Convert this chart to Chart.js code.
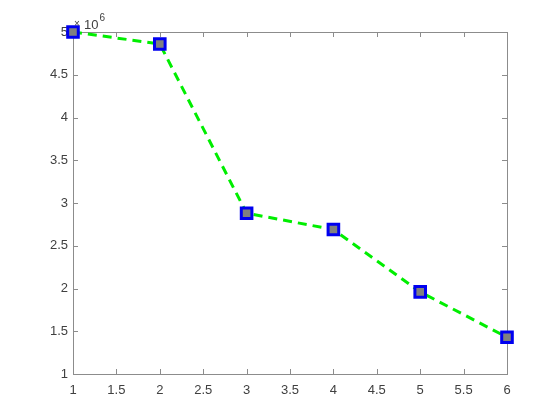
<!DOCTYPE html>
<html>
<head>
<meta charset="utf-8">
<script src="https://cdn.jsdelivr.net/npm/chart.js@4"></script>
<style>
  html, body { margin: 0; padding: 0; background: #fff; }
  #wrap { width: 560px; height: 420px; }
</style>
</head>
<body>
<div id="wrap"><canvas id="plot" width="560" height="420"></canvas></div>
<script>
// values
const xValues = [1, 2, 3, 4, 5, 6];
const yValues = [5.00e6, 4.86e6, 2.88e6, 2.69e6, 1.96e6, 1.43e6];
const xTicks = [1, 1.5, 2, 2.5, 3, 3.5, 4, 4.5, 5, 5.5, 6];
const yTicks = [1e6, 1.5e6, 2e6, 2.5e6, 3e6, 3.5e6, 4e6, 4.5e6, 5e6];
const yExponent = 6;

const axisColor = '#8c8c8c';
const textColor = '#404040';
const fontFamily = 'Arial, "Liberation Sans", Helvetica, sans-serif';

// matlab-like box with inward ticks + exponent label
const boxPlugin = {
  id: 'matlabBox',
  beforeDatasetsDraw(chart) {
    const { ctx, chartArea: a, scales } = chart;
    ctx.save();
    ctx.strokeStyle = axisColor;
    ctx.lineWidth = 1;
    ctx.strokeRect(a.left + 0.5, a.top + 0.5, a.right - a.left, a.bottom - a.top);
    const len = 5;
    ctx.beginPath();
    xTicks.forEach(v => {
      const px = Math.round(scales.x.getPixelForValue(v)) + 0.5;
      ctx.moveTo(px, a.bottom); ctx.lineTo(px, a.bottom - len);
      ctx.moveTo(px, a.top); ctx.lineTo(px, a.top + len);
    });
    yTicks.forEach(v => {
      const py = Math.round(scales.y.getPixelForValue(v)) + 0.5;
      ctx.moveTo(a.left, py); ctx.lineTo(a.left + len, py);
      ctx.moveTo(a.right, py); ctx.lineTo(a.right - len, py);
    });
    ctx.stroke();
    ctx.restore();
  },
  afterDraw(chart) {
    const { ctx, chartArea: a } = chart;
    ctx.save();
    ctx.fillStyle = textColor;
    ctx.textBaseline = 'alphabetic';
    ctx.textAlign = 'left';
    ctx.font = '10px ' + fontFamily;
    ctx.fillText('\u00d7', a.left + 1, a.top - 5);
    ctx.font = '13px ' + fontFamily;
    ctx.fillText('10', a.left + 11, a.top - 3);
    const w = ctx.measureText('10').width;
    ctx.font = '10px ' + fontFamily;
    ctx.fillText(String(yExponent), a.left + 11 + w + 1, a.top - 11);
    ctx.restore();
  }
};

new Chart(document.getElementById('plot'), {
  type: 'scatter',
  data: {
    datasets: [{
      data: xValues.map((x, i) => ({ x: x, y: yValues[i] })),
      showLine: true,
      clip: false,
      borderColor: '#00ee00',
      borderWidth: 3,
      borderDash: [9, 6],
      pointStyle: 'rect',
      pointRadius: 7.5,
      pointHoverRadius: 7.5,
      pointBorderWidth: 3,
      pointBorderColor: '#0000f0',
      pointBackgroundColor: '#808080'
    }]
  },
  options: {
    responsive: false,
    animation: false,
    events: [],
    layout: { padding: { left: 0, top: 32, right: 53, bottom: 0 } },
    plugins: { legend: { display: false }, tooltip: { enabled: false } },
    scales: {
      x: {
        type: 'linear',
        min: 1, max: 6,
        afterFit(s) { s.height = 46; },
        afterBuildTicks(s) { s.ticks = xTicks.map(v => ({ value: v })); },
        grid: { display: false, drawTicks: false },
        border: { display: false },
        ticks: {
          color: textColor,
          padding: 9,
          maxRotation: 0,
          autoSkip: false,
          font: { family: fontFamily, size: 13 },
          callback: v => String(v)
        }
      },
      y: {
        type: 'linear',
        min: 1e6, max: 5e6,
        afterFit(s) { s.width = 73; },
        afterBuildTicks(s) { s.ticks = yTicks.map(v => ({ value: v })); },
        grid: { display: false, drawTicks: false },
        border: { display: false },
        ticks: {
          color: textColor,
          padding: 5,
          autoSkip: false,
          font: { family: fontFamily, size: 13 },
          callback: v => String(v / Math.pow(10, yExponent))
        }
      }
    }
  },
  plugins: [boxPlugin]
});
</script>
</body>
</html>
